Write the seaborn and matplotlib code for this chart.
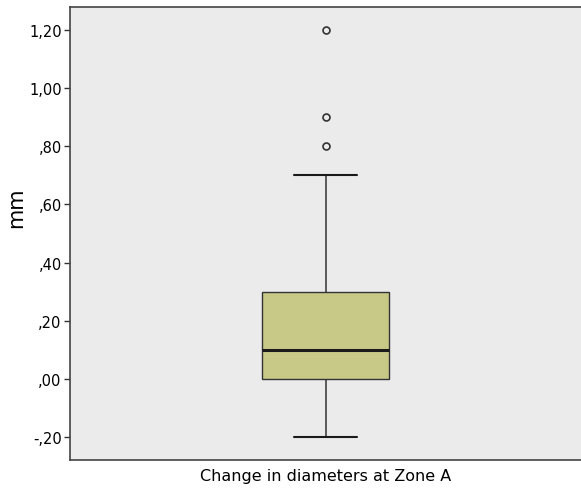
import matplotlib
matplotlib.use("Agg")
import matplotlib.pyplot as plt
import seaborn as sns
import pandas as pd
from matplotlib.ticker import FuncFormatter

# Data (reconstructed to reproduce the box statistics)
category = "Change in diameters at Zone A"
values = [-0.2, -0.1, 0.0, 0.0, 0.0, 0.0, 0.0, 0.1, 0.1, 0.1, 0.1,
          0.1, 0.2, 0.2, 0.3, 0.3, 0.4, 0.7, 0.8, 0.9, 1.2]
yticks = [-0.2, 0.0, 0.2, 0.4, 0.6, 0.8, 1.0, 1.2]

df = pd.DataFrame({"group": [category] * len(values), "mm": values})

sns.set_style("white")
plt.rcParams['font.family'] = ['DejaVu Sans']

fig = plt.figure(figsize=(5.81, 4.89), dpi=100)
ax = fig.add_axes([70 / 581, 1 - 461 / 489, 1 - 70 / 581, (461 - 8) / 489])
ax.set_facecolor("#ebebeb")

sns.boxplot(data=df, x="group", y="mm", ax=ax, width=0.25, whis=1.5,
            color="#c8c987", saturation=1,
            linecolor="#333333", linewidth=1.0,
            boxprops=dict(edgecolor="#333333"),
            medianprops=dict(color="#1a1a1a", linewidth=2.2),
            whiskerprops=dict(color="#333333", linewidth=1.1),
            capprops=dict(color="#1a1a1a", linewidth=1.5),
            flierprops=dict(marker="o", markersize=5, markerfacecolor="none",
                            markeredgecolor="#333333", markeredgewidth=1.2))

ax.set_xlim(-0.5, 0.5)
ax.set_ylim(-0.279, 1.279)
ax.set_yticks(yticks)


def fmt(v, pos):
    s = f"{abs(v):.2f}".replace(".", ",")
    if s.startswith("0"):
        s = s[1:]
    return ("-" if v < -1e-9 else "") + s


ax.yaxis.set_major_formatter(FuncFormatter(fmt))
ax.tick_params(axis="y", length=4, width=1, color="#333333", labelsize=10.5,
               labelcolor="black", pad=2, left=True, direction="out")
ax.tick_params(axis="x", length=0, labelsize=11.5, labelcolor="black", pad=6)
ax.set_xlabel("")
ax.set_ylabel("mm", fontsize=15, color="black")
ax.yaxis.set_label_coords(-0.086, 0.56)

for side in ["left", "top", "bottom"]:
    ax.spines[side].set_visible(True)
    ax.spines[side].set_color("#444444")
    ax.spines[side].set_linewidth(1.2)
ax.spines["right"].set_visible(False)

fig.savefig("out.png", dpi=100)
